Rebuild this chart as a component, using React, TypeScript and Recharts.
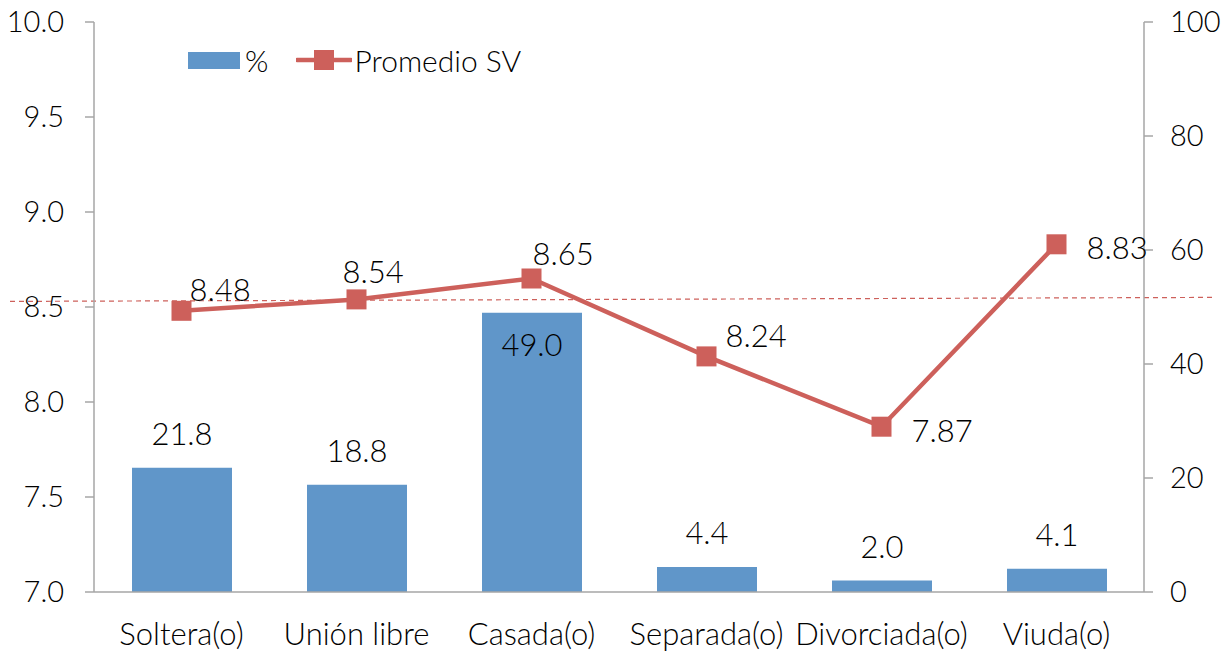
import React from 'react';
import { ComposedChart, Bar, Line, XAxis, YAxis, ReferenceLine, LabelList } from 'recharts';

const categories = ['Soltera(o)', 'Unión libre', 'Casada(o)', 'Separada(o)', 'Divorciada(o)', 'Viuda(o)'];
const percentValues = [21.8, 18.8, 49.0, 4.4, 2.0, 4.1];
const promedioValues = [8.48, 8.54, 8.65, 8.24, 7.87, 8.83];
const leftTicks = [7.0, 7.5, 8.0, 8.5, 9.0, 9.5, 10.0];
const rightTicks = [0, 20, 40, 60, 80, 100];
const referenceValue = 8.54;

const data = categories.map((c, i) => ({ name: c, pct: percentValues[i], prom: promedioValues[i] }));

const FONT = 'Lato, "Open Sans", sans-serif';
const FS = 31;
const FW = 300;
const TEXT = '#000';
const BAR = '#6096C9';
const LINE = '#CD605B';
const AXIS = '#a6a6a6';

// label placement offsets (dx from point to text start, dy to baseline)
const lineLabelOffsets = [
  [8, -10],
  [-14, -16],
  [1, -14],
  [19, -9],
  [30, 15],
  [30, 15],
];

const LineLabel = (props: any) => {
  const { x, y, value, index } = props;
  const [dx, dy] = lineLabelOffsets[index] || [8, -10];
  return (
    <text x={x + dx} y={y + dy} fill={TEXT} fontSize={FS} fontFamily={FONT} fontWeight={FW} textAnchor="start">
      {Number(value).toFixed(2)}
    </text>
  );
};

const BarLabel = (props: any) => {
  const { x, y, width, value, index } = props;
  const inside = index === 2;
  const ty = inside ? y + 43 : y - 23;
  return (
    <text x={x + width / 2} y={ty} fill={TEXT} fontSize={FS} fontFamily={FONT} fontWeight={FW} textAnchor="middle">
      {Number(value).toFixed(1)}
    </text>
  );
};

const SquareDot = (props: any) => {
  const { cx, cy } = props;
  if (cx == null || cy == null) return null;
  return <rect x={cx - 10} y={cy - 10} width={20} height={20} fill={LINE} />;
};

const RefShape = (props: any) => {
  const { x1, y1, x2, y2 } = props;
  return (
    <line x1={x1 - 84} y1={y1 + 2} x2={x2 + 71} y2={y2 - 2} stroke={LINE} strokeWidth={1.2} strokeDasharray="5 4" />
  );
};

const tickStyle = { fill: TEXT, fontSize: FS, fontFamily: FONT, fontWeight: FW };
const yTickStyle = { fill: TEXT, fontSize: 29, fontFamily: FONT, fontWeight: FW };

export default function App() {
  return (
    <div style={{ position: 'absolute', left: 0, top: 0, width: 1224, height: 652, background: '#fff' }}>
      <ComposedChart
        width={1224}
        height={652}
        data={data}
        margin={{ top: 22, right: 20, bottom: 20, left: 34 }}
      >
        <XAxis
          dataKey="name"
          xAxisId={0}
          interval={0}
          tickLine={false}
          tickSize={0}
          tickMargin={31}
          height={40}
          axisLine={{ stroke: AXIS, strokeWidth: 1.5 }}
          tick={tickStyle}
        />
        <YAxis
          yAxisId="left"
          orientation="left"
          domain={[7, 10]}
          ticks={leftTicks}
          tickFormatter={(v: number) => v.toFixed(1)}
          width={60}
          tickSize={9}
          tickMargin={21}
          axisLine={{ stroke: AXIS, strokeWidth: 1.5 }}
          tickLine={{ stroke: AXIS, strokeWidth: 1.5 }}
          tick={yTickStyle}
          interval={0}
        />
        <YAxis
          yAxisId="right"
          orientation="right"
          domain={[0, 100]}
          ticks={rightTicks}
          width={60}
          tickSize={9}
          tickMargin={17}
          axisLine={{ stroke: AXIS, strokeWidth: 1.5 }}
          tickLine={{ stroke: AXIS, strokeWidth: 1.5 }}
          tick={yTickStyle}
          interval={0}
        />
        <Bar yAxisId="right" dataKey="pct" fill={BAR} barSize={100} isAnimationActive={false}>
          <LabelList dataKey="pct" content={BarLabel} />
        </Bar>
        <ReferenceLine yAxisId="left" y={referenceValue} shape={RefShape} />
        <Line
          yAxisId="left"
          dataKey="prom"
          stroke={LINE}
          strokeWidth={4.5}
          dot={<SquareDot />}
          activeDot={false}
          isAnimationActive={false}
        >
          <LabelList dataKey="prom" content={LineLabel} />
        </Line>
      </ComposedChart>
      <div style={{ position: 'absolute', left: 188, top: 38, height: 44, display: 'flex', alignItems: 'center', fontFamily: FONT, fontWeight: FW, fontSize: 30, color: TEXT, whiteSpace: 'nowrap' }}>
        <span style={{ display: 'inline-block', width: 52, height: 17, background: BAR, marginRight: 5 }} />
        <span>%</span>
        <svg width={56} height={22} style={{ marginLeft: 28, marginRight: 2 }}>
          <line x1={1} y1={11} x2={55} y2={11} stroke={LINE} strokeWidth={4.5} strokeLinecap="round" />
          <rect x={18} y={1} width={20} height={20} fill={LINE} />
        </svg>
        <span>Promedio SV</span>
      </div>
    </div>
  );
}
